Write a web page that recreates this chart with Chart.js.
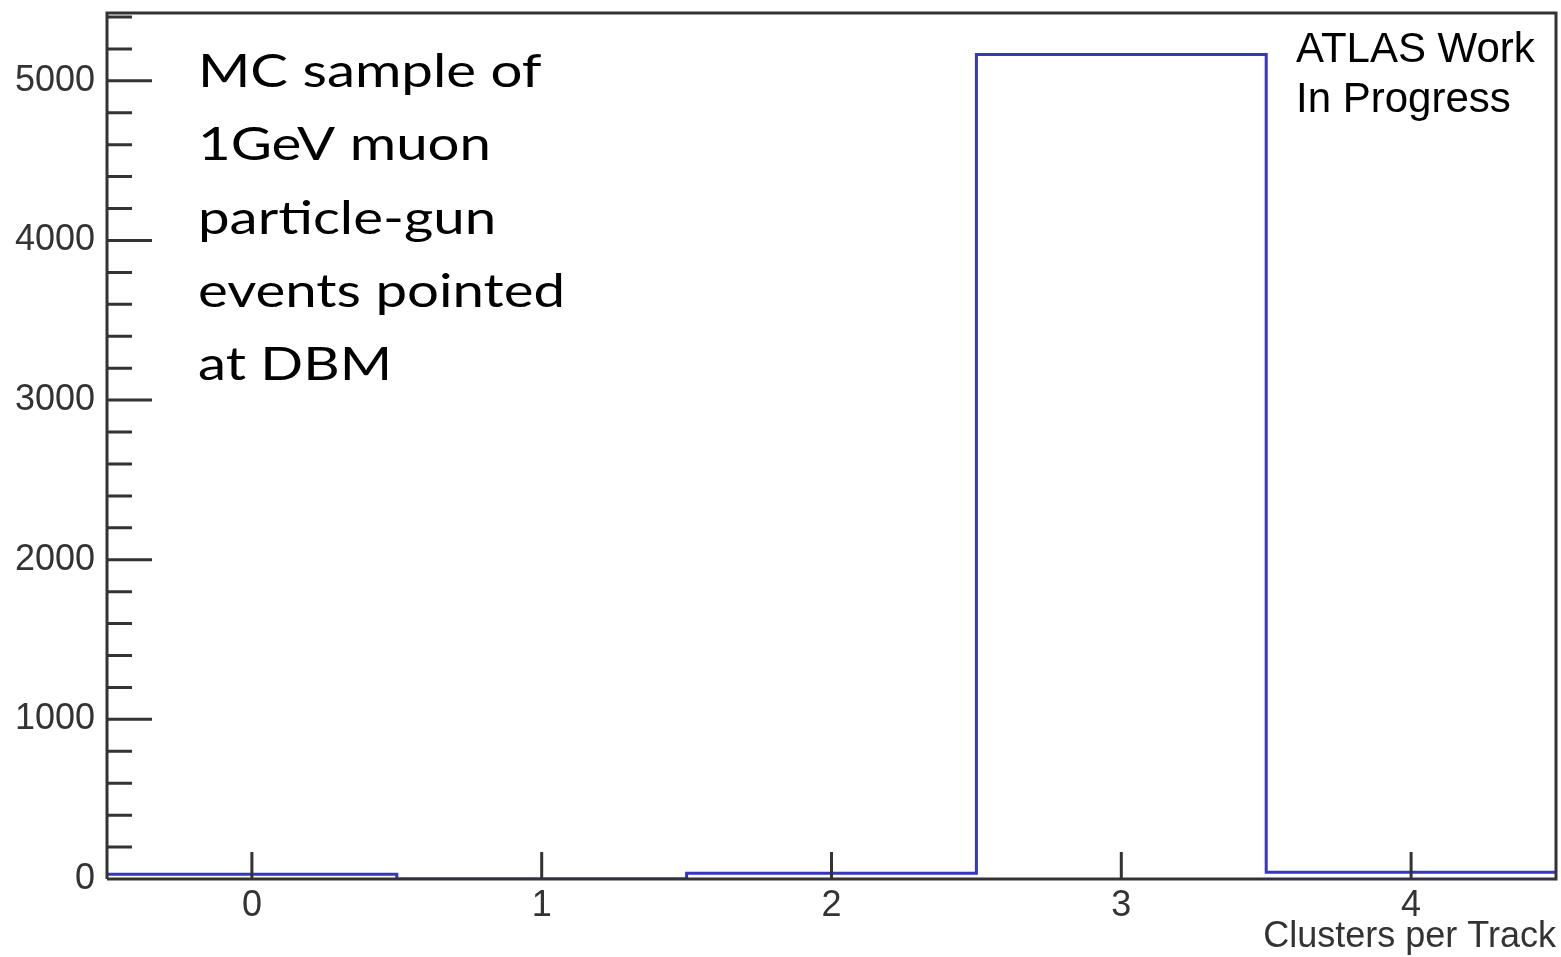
<!DOCTYPE html>
<html>
<head>
<meta charset="utf-8">
<title>Clusters per Track</title>
<script src="https://cdn.jsdelivr.net/npm/chart.js@4.4.1/dist/chart.umd.min.js"></script>
<style>
  html, body { margin: 0; padding: 0; background: #fff; }
  #wrap { width: 1561px; height: 957px; }
</style>
</head>
<body>
<div id="wrap"><canvas id="histo" width="1561" height="957"></canvas></div>
<script>
// Histogram bins (Clusters per Track) and entries per bin
const categories = [0, 1, 2, 3, 4];
const counts = [30, 0, 36, 5165, 42];
const yMajorTicks = [0, 1000, 2000, 3000, 4000, 5000];
const yMinorStep = 200;
const yMax = 5425;
const xTitle = 'Clusters per Track';
const noteLines = ['MC sample of', '1GeV muon', 'particle-gun', 'events pointed', 'at DBM'];
const atlasLines = ['ATLAS Work', 'In Progress'];

const axisColor = '#333333';
const lineBlue = '#3636c2';
const labelFont = { family: "'Liberation Sans', Arial, sans-serif", size: 36 };

// step outline built from bin low edges, plus the last upper edge
function buildOutline() {
  const pts = categories.map((c, i) => ({ x: c - 0.5, y: counts[i] }));
  const last = categories.length - 1;
  pts.push({ x: categories[last] + 0.5, y: counts[last] });
  return pts;
}

function yTicks() {
  const out = [];
  for (let v = 0; v <= yMax; v += yMinorStep) out.push({ value: v });
  return out;
}

// ROOT-like inner ticks, frame and text labels
const rootStyle = {
  id: 'rootStyle',
  afterDatasetsDraw(chart) {
    const { ctx, chartArea: a, scales: { x, y } } = chart;
    ctx.save();
    ctx.strokeStyle = axisColor;
    ctx.lineWidth = 3;
    ctx.beginPath();
    // frame
    ctx.moveTo(a.left, a.bottom);
    ctx.lineTo(a.left, a.top);
    ctx.lineTo(a.right, a.top);
    ctx.lineTo(a.right, a.bottom);
    ctx.lineTo(a.left, a.bottom);
    // y ticks, long at labelled values
    y.ticks.forEach(t => {
      const py = y.getPixelForValue(t.value);
      const len = yMajorTicks.includes(t.value) ? 45 : 25;
      ctx.moveTo(a.left, py);
      ctx.lineTo(a.left + len, py);
    });
    // x ticks
    x.ticks.forEach(t => {
      const px = x.getPixelForValue(t.value);
      ctx.moveTo(px, a.bottom);
      ctx.lineTo(px, a.bottom - 27);
    });
    ctx.stroke();

    // annotation texts (the slide text is stretched sideways)
    ctx.fillStyle = '#000';
    ctx.textAlign = 'left';
    ctx.textBaseline = 'alphabetic';
    ctx.save();
    ctx.translate(198, 0);
    ctx.scale(1.2, 1);
    ctx.font = "47px Lato, 'Open Sans', sans-serif";
    noteLines.forEach((s, i) => ctx.fillText(s, 0, 87 + i * 73.3));
    ctx.restore();
    ctx.font = "42px 'Liberation Sans', Arial, sans-serif";
    atlasLines.forEach((s, i) => ctx.fillText(s, 1296, 62 + i * 50));
    ctx.restore();
  }
};

new Chart(document.getElementById('histo'), {
  type: 'line',
  data: {
    datasets: [{
      data: buildOutline(),
      stepped: 'before',
      borderColor: lineBlue,
      borderWidth: 3,
      pointRadius: 0,
      fill: false
    }]
  },
  options: {
    responsive: false,
    animation: false,
    layout: { padding: { left: 0, top: 13, right: 5, bottom: 0 } },
    plugins: { legend: { display: false }, tooltip: { enabled: false } },
    scales: {
      x: {
        type: 'linear',
        min: -0.5,
        max: 4.5,
        afterBuildTicks: s => { s.ticks = categories.map(v => ({ value: v })); },
        afterFit: s => { s.height = 78; s.paddingLeft = 0; s.paddingRight = 0; },
        grid: { display: false, drawTicks: false },
        border: { display: false },
        ticks: { color: axisColor, font: labelFont, padding: 5, autoSkip: false, maxRotation: 0 },
        title: {
          display: true,
          text: xTitle,
          align: 'end',
          color: axisColor,
          font: labelFont,
          padding: { top: 0, bottom: -2 }
        }
      },
      y: {
        type: 'linear',
        min: 0,
        max: yMax,
        afterBuildTicks: s => { s.ticks = yTicks(); },
        afterFit: s => { s.width = 107; s.paddingTop = 0; s.paddingBottom = 0; },
        grid: { display: false, drawTicks: false },
        border: { display: false },
        ticks: {
          autoSkip: false,
          color: axisColor,
          font: labelFont,
          padding: 12,
          callback: v => yMajorTicks.includes(v) ? String(v) : ''
        }
      }
    }
  },
  plugins: [rootStyle]
});
</script>
</body>
</html>
